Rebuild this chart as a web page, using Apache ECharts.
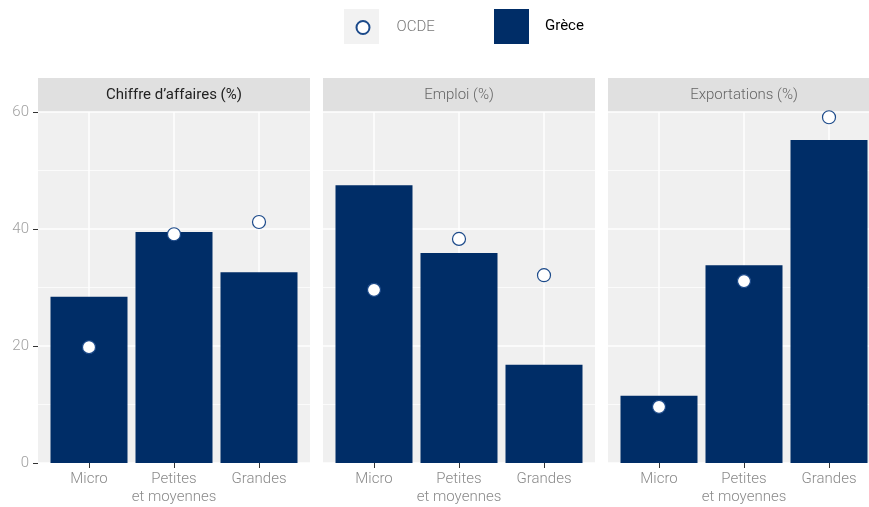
<!DOCTYPE html>
<html><head><meta charset="utf-8">
<script src="https://cdn.jsdelivr.net/npm/echarts@6/dist/echarts.min.js"></script>
<style>html,body{margin:0;padding:0;background:#fff}#c{width:869px;height:507px}</style>
</head><body><div id="c"></div>
<script>
const categories = ['Micro', 'Petites\net moyennes', 'Grandes'];
const panelTitles = ['Chiffre d\u2019affaires (%)', 'Emploi (%)', 'Exportations (%)'];
const greceChiffre = [28.4, 39.5, 32.6];
const ocdeChiffre = [19.8, 39.1, 41.2];
const greceEmploi = [47.5, 35.9, 16.8];
const ocdeEmploi = [29.6, 38.3, 32.1];
const greceExport = [11.5, 33.8, 55.2];
const ocdeExport = [9.6, 31.1, 59.1];
const yTicks = [0, 20, 40, 60];

const FONT = 'Roboto, sans-serif';
const greceSets = [greceChiffre, greceEmploi, greceExport];
const ocdeSets = [ocdeChiffre, ocdeEmploi, ocdeExport];
const lefts = [38, 323, 608];
const W = 272;
const BAR = '#002d67';

const chart = echarts.init(document.getElementById('c'), null, {renderer: 'canvas'});
const grids = [], xAxes = [], yAxes = [], series = [], graphics = [];
lefts.forEach((l, i) => {
  grids.push({left: l, width: W, top: 112, bottom: 44, backgroundColor: '#f0f0f0', show: true, borderWidth: 0,
    outerBoundsMode: 'none', containLabel: false});
  xAxes.push({
    type: 'value', gridIndex: i, min: -0.6, max: 2.6,
    axisLine: {show: false, onZero: false},
    axisTick: {show: true, length: 5, customValues: [0, 1, 2], lineStyle: {color: '#333', width: 1}},
    axisLabel: {customValues: [0, 1, 2], formatter: v => categories[Math.round(v)], color: '#8a8a8a',
      fontFamily: FONT, fontSize: 15, fontWeight: 300, lineHeight: 18, margin: 7},
    splitLine: {show: true, lineStyle: {color: '#fff', width: 1.5}}
  });
  yAxes.push({
    type: 'value', gridIndex: i, min: yTicks[0], max: yTicks[yTicks.length - 1], interval: 20,
    axisLine: {show: false, onZero: false},
    axisTick: {show: i === 0, length: 5, lineStyle: {color: '#333', width: 1}},
    axisLabel: {show: i === 0, color: '#a0a0a0', fontFamily: FONT, fontSize: 15, fontWeight: 300, margin: 9},
    splitLine: {show: true, lineStyle: {color: '#fff', width: 1.5}},
    minorTick: {show: false, splitNumber: 2},
    minorSplitLine: {show: true, lineStyle: {color: '#fff', width: 0.7}}
  });
  series.push({
    type: 'bar', name: 'Gr\u00e8ce', xAxisIndex: i, yAxisIndex: i, barWidth: 77,
    itemStyle: {color: BAR},
    data: greceSets[i].map((v, k) => [k, v]), z: 2
  });
  series.push({
    type: 'scatter', name: 'OCDE', xAxisIndex: i, yAxisIndex: i, symbol: 'circle', symbolSize: 13,
    itemStyle: {color: '#fff', borderColor: '#1c4a8a', borderWidth: 1.2, opacity: 1},
    data: ocdeSets[i].map((v, k) => [k, v]), z: 3
  });
  graphics.push({type: 'rect', shape: {x: l, y: 78, width: W, height: 34}, style: {fill: '#e0e0e0'}, z: 0});
  graphics.push({type: 'text', x: l + W / 2, y: 95, style: {text: panelTitles[i], fill: i === 0 ? '#222' : '#666',
    font: (i === 0 ? '400' : '300') + ' 15px ' + FONT, textAlign: 'center', textVerticalAlign: 'middle'}, z: 1});
});
graphics.push({type: 'rect', shape: {x: 344, y: 9, width: 35, height: 35}, style: {fill: '#f2f2f2'}, z: 0});

chart.setOption({
  animation: false,
  backgroundColor: '#fff',
  grid: grids, xAxis: xAxes, yAxis: yAxes, series: series,
  graphic: graphics,
  legend: [
    {data: ['OCDE'], left: 355.5, top: 20, padding: 0, itemWidth: 13, itemHeight: 13, icon: 'circle',
      textStyle: {color: '#777', fontFamily: FONT, fontSize: 15, fontWeight: 300, padding: [0, 0, 0, 22]}, selectedMode: false},
    {data: ['Gr\u00e8ce'], left: 494, top: 9, padding: 0, itemWidth: 35, itemHeight: 35, icon: 'rect',
      textStyle: {color: '#000', fontFamily: FONT, fontSize: 15, padding: [0, 0, 0, 11]}, selectedMode: false}
  ]
});
</script></body></html>
